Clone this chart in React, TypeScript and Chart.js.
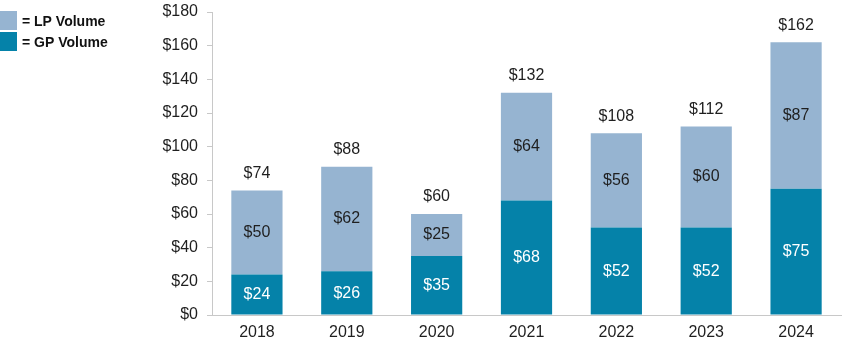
import React, { useEffect, useRef } from "react";
import { Chart, registerables } from "chart.js";

Chart.register(...registerables);

const years = ["2018", "2019", "2020", "2021", "2022", "2023", "2024"];
const gpVolume = [24, 26, 35, 68, 52, 52, 75];
const lpVolume = [50, 62, 25, 64, 56, 60, 87];
const totals = [74, 88, 60, 132, 108, 112, 162];
const yTicks = [0, 20, 40, 60, 80, 100, 120, 140, 160, 180];

const GP_COLOR = "#0582a9";
const LP_COLOR = "#96b4d1";
const FONT = "'Liberation Sans', Arial, sans-serif";

const labelPlugin = {
  id: "labels",
  afterDatasetsDraw(chart: any) {
    const ctx = chart.ctx;
    ctx.save();
    ctx.font = `16px ${FONT}`;
    ctx.textAlign = "center";
    ctx.textBaseline = "middle";
    const gpMeta = chart.getDatasetMeta(0);
    const y = chart.scales.y;
    years.forEach((_, i) => {
      const gx = gpMeta.data[i].x;
      ctx.fillStyle = "#ffffff";
      ctx.fillText("$" + gpVolume[i], gx, y.getPixelForValue(gpVolume[i] / 2));
      ctx.fillStyle = "#1f1f1f";
      ctx.fillText(
        "$" + lpVolume[i],
        gx,
        y.getPixelForValue(gpVolume[i] + lpVolume[i] / 2)
      );
      ctx.fillText("$" + totals[i], gx, y.getPixelForValue(totals[i]) - 17);
    });
    ctx.restore();
  },
};

const legendPlugin = {
  id: "customLegend",
  afterDraw(chart: any) {
    const ctx = chart.ctx;
    ctx.save();
    const items = [
      { color: LP_COLOR, text: "= LP Volume", y: 11 },
      { color: GP_COLOR, text: "= GP Volume", y: 32 },
    ];
    ctx.font = `bold 14px ${FONT}`;
    ctx.textBaseline = "middle";
    ctx.textAlign = "left";
    items.forEach((it) => {
      ctx.fillStyle = it.color;
      ctx.fillRect(0, it.y, 17, 19);
      ctx.fillStyle = "#111111";
      ctx.fillText(it.text, 22, it.y + 11);
    });
    ctx.restore();
  },
};

export default function App() {
  const ref = useRef<HTMLCanvasElement>(null);
  useEffect(() => {
    if (!ref.current) return;
    const chart = new Chart(ref.current, {
      type: "bar",
      data: {
        labels: years,
        datasets: [
          {
            label: "GP Volume",
            data: gpVolume,
            backgroundColor: GP_COLOR,
            borderWidth: 0,
            barPercentage: 0.57,
            categoryPercentage: 1,
          },
          {
            label: "LP Volume",
            data: lpVolume,
            backgroundColor: LP_COLOR,
            borderWidth: 0,
            barPercentage: 0.57,
            categoryPercentage: 1,
          },
        ],
      },
      options: {
        responsive: true,
        maintainAspectRatio: false,
        animation: false,
        layout: { padding: { left: 0, right: 11, top: 12, bottom: 0 } },
        plugins: {
          legend: { display: false },
          tooltip: { enabled: false },
          title: { display: false },
        },
        scales: {
          x: {
            stacked: true,
            grid: { display: false, drawTicks: false },
            border: { display: true, color: "#c8c8c8", width: 1 },
            ticks: {
              color: "#1f1f1f",
              font: { family: FONT, size: 16 },
              padding: 8,
            },
            afterFit: (s: any) => {
              s.height = 43;
            },
          },
          y: {
            stacked: true,
            min: 0,
            max: 180,
            afterBuildTicks: (s: any) => {
              s.ticks = yTicks.map((v) => ({ value: v }));
            },
            grid: {
              display: true,
              drawOnChartArea: false,
              drawTicks: true,
              tickLength: 5,
              color: "#c8c8c8",
            },
            border: { display: true, color: "#c8c8c8", width: 1 },
            ticks: {
              color: "#1f1f1f",
              font: { family: FONT, size: 16 },
              padding: 9,
              callback: (v: any) => "$" + v,
            },
            afterFit: (s: any) => {
              s.width = 212;
              s.paddingTop = 0;
              s.paddingBottom = 0;
            },
          },
        },
      },
      plugins: [labelPlugin, legendPlugin],
    });
    return () => chart.destroy();
  }, []);
  return (
    <div
      style={{
        position: "fixed",
        left: 0,
        top: 0,
        width: 852,
        height: 358,
        background: "#ffffff",
      }}
    >
      <canvas ref={ref} />
    </div>
  );
}
